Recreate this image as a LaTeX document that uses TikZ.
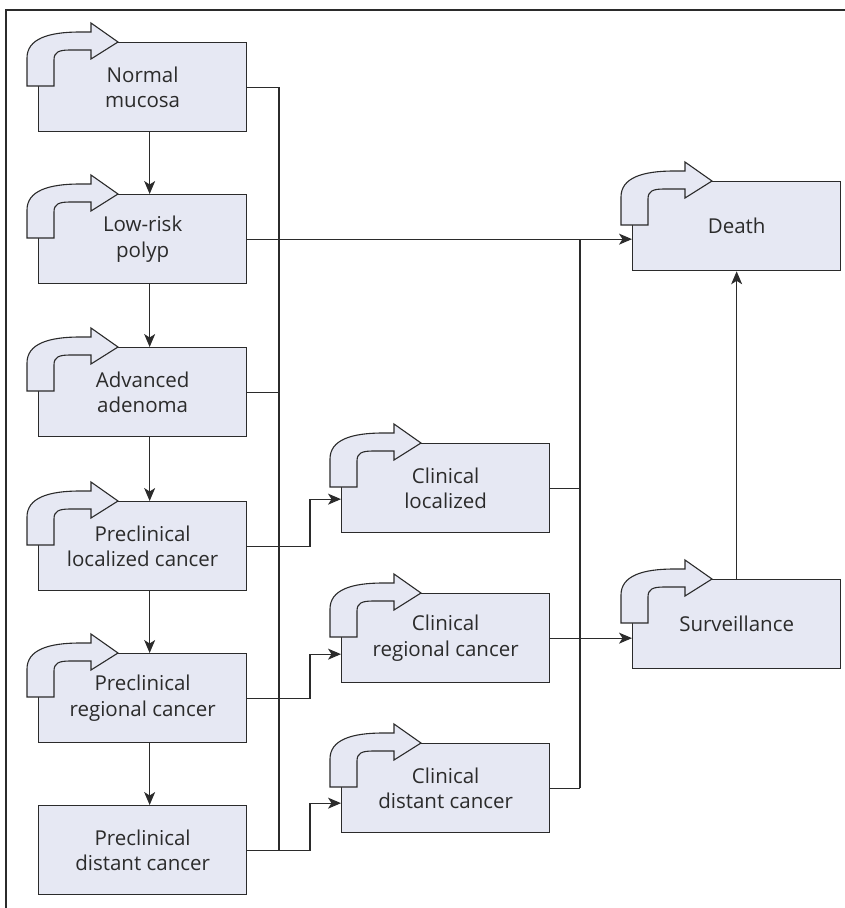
\documentclass[tikz,border=0pt]{standalone}
\usepackage{fontspec}
\setmainfont{Open Sans}
\usetikzlibrary{arrows.meta}
\definecolor{boxfill}{HTML}{E6E8F3}
\definecolor{ink}{HTML}{2B2B2B}
\tikzset{
  bentarrow/.pic={
    \filldraw[draw=ink, fill=boxfill, line width=1.1pt, line join=miter]
      (-11,44) -- (-11,16) .. controls (-11,-3) and (10,-10) .. (42,-10)
      -- (53,-10) -- (53,-19) -- (80,0) -- (53,17) -- (53,8) -- (32,8)
      .. controls (21,8) and (16,10) .. (16,18) -- (16,44) -- cycle;
  }
}
\begin{document}
\begin{tikzpicture}[x=1pt,y=-1pt,
  box/.style={draw=ink, fill=boxfill, line width=1.3pt, minimum width=208pt,
    minimum height=89pt, inner sep=0pt, align=center,
    font=\fontsize{20.5}{25.5}\selectfont, text=ink, anchor=north west},
  conn/.style={draw=ink, line width=1.1pt},
  arr/.style={conn, -{Stealth[length=13pt,width=11pt,inset=3.5pt]}},
]
\useasboundingbox (0,0) rectangle (845,908);
\draw[ink, line width=1.3pt] (6,908) -- (6,10) -- (845,10);

% left column
\node[box] (n1) at (38,42)  {Normal\\mucosa};
\node[box] (n2) at (38,194) {Low-risk\\polyp};
\node[box] (n3) at (38,347) {Advanced\\adenoma};
\node[box] (n4) at (38,501) {Preclinical\\localized cancer};
\node[box] (n5) at (38,653) {Preclinical\\regional cancer};
\node[box] (n6) at (38,805) {Preclinical\\distant cancer};
% middle column
\node[box] (n7) at (341,443) {Clinical\\localized};
\node[box] (n8) at (341,593) {Clinical\\regional cancer};
\node[box] (n9) at (341,743) {Clinical\\distant cancer};
% right column
\node[box] (death) at (632,181) {Death};
\node[box] (surv)  at (632,579) {Surveillance};

\foreach \n in {n1,n2,n3,n4,n5,n7,n8,n9,death,surv}
  \pic at (\n.north west) {bentarrow};

\coordinate (bx) at (279,0);
\coordinate (cx) at (310,0);
\coordinate (rbx) at (580,0);

% vertical progression
\foreach \a/\b in {n1/n2,n2/n3,n3/n4,n4/n5,n5/n6}
  \draw[arr] ([xshift=7pt]\a.south) -- ([xshift=7pt]\b.north);

% left bus
\draw[conn] (n1.east) -| (n6.east -| bx);
\draw[conn] (n6.east) -- (n6.east -| bx);
\draw[conn] (n3.east) -- (n3.east -| bx);
\draw[arr] (n2.east) -- (n2.east -| death.west);
\draw[arr] (n4.east) -- (n4.east -| cx) |- ([yshift=-11pt]n7.west);
\draw[arr] (n5.east) -- (n5.east -| cx) |- ([yshift=-16pt]n8.west);
\draw[arr] (n6.east) -- (n6.east -| cx) |- ([yshift=-15pt]n9.west);

% right bus
\draw[conn] (n2.east -| rbx) -- (n9.east -| rbx);
\draw[conn] (n7.east) -- (n7.east -| rbx);
\draw[conn] (n9.east) -- (n9.east -| rbx);
\draw[arr] (n8.east) -- (n8.east -| surv.west);
\draw[arr] (surv.north) -- (death.south);
\end{tikzpicture}
\end{document}
